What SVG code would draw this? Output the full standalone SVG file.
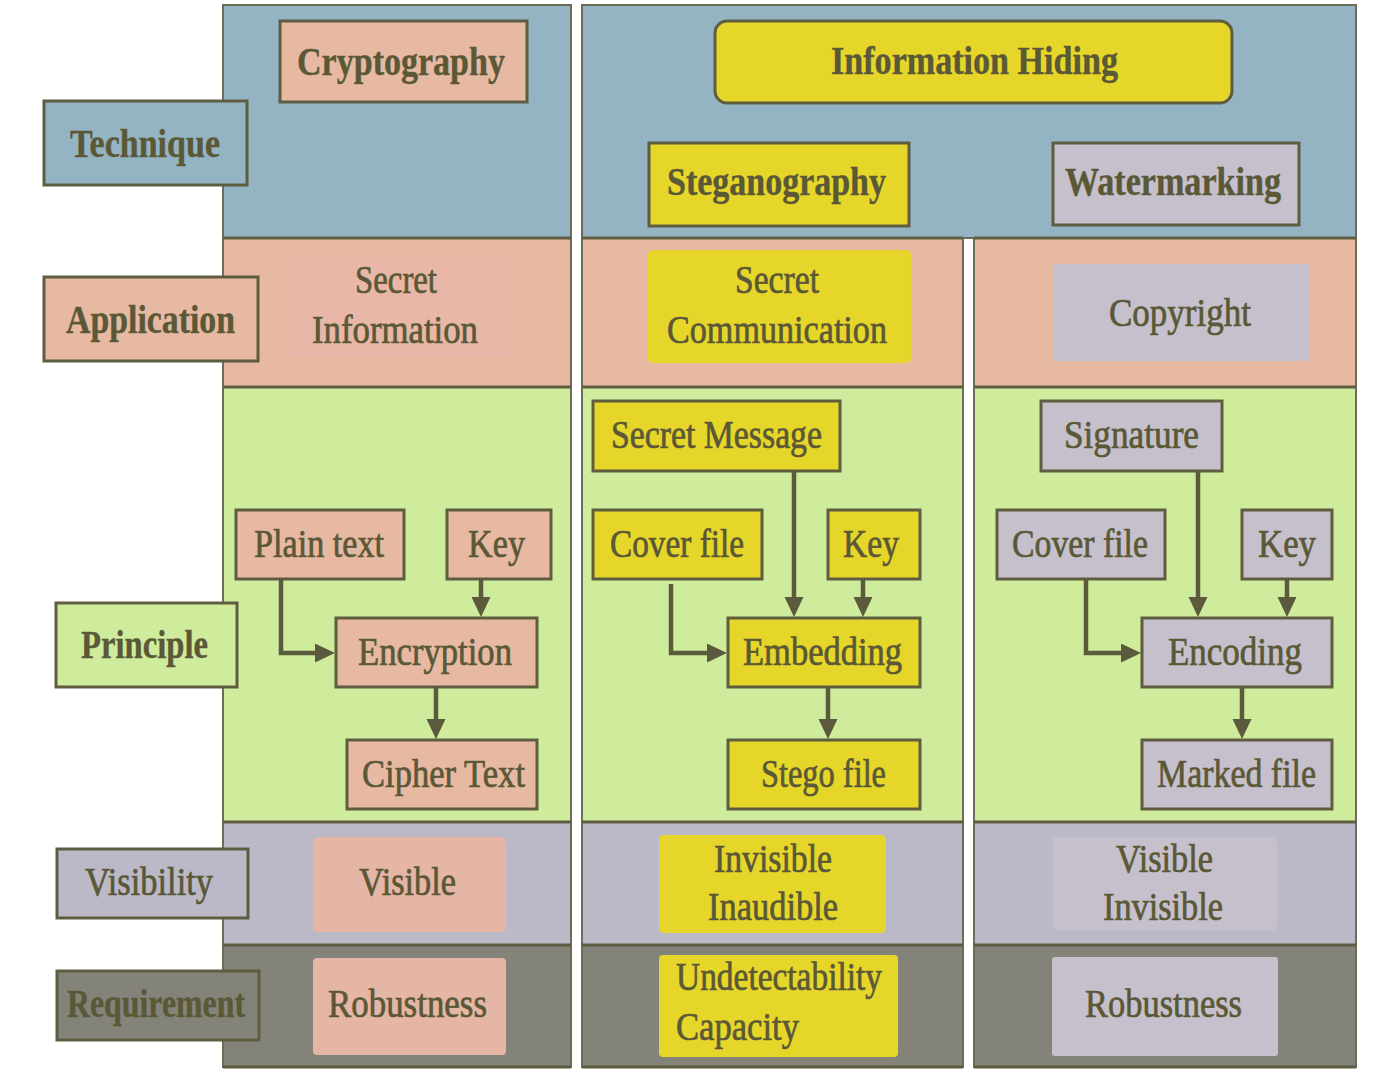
<svg xmlns="http://www.w3.org/2000/svg" width="1382" height="1080" viewBox="0 0 1382 1080">
  <defs>
    <marker id="arrow" markerUnits="userSpaceOnUse" markerWidth="22" markerHeight="20" refX="10" refY="9.5" orient="auto">
      <path d="M0,0 L20,9.5 L0,19 z" fill="#5c5a3c"/>
    </marker>
  </defs>
  <style>
    text { font-family: "Liberation Serif", "Times New Roman", serif; fill: #5a5836; text-anchor: start; }
    .b { font-weight: bold; font-size: 40px; stroke: #5a5836; stroke-width: 0.4; }
    .r { font-size: 40px; stroke: #5a5836; stroke-width: 0.7; }
    .frame { stroke: #6d6c58; stroke-width: 2; }
    .sep { stroke: #5e5d40; stroke-width: 3; }
    .box { stroke: #5e5d40; stroke-width: 3; }
    .blue { fill: #94b4c4; }
    .salmon { fill: #e7b9a3; }
    .green { fill: #cfec9c; }
    .yellow { fill: #e7d62a; }
    .lav { fill: #c6c0cc; }
    .vis { fill: #bbb8c7; }
    .gray { fill: #83837a; }
    .conn { fill: none; stroke: #5c5a3c; stroke-width: 4.5; }
  </style>

  <rect width="1382" height="1080" fill="#ffffff"/>

  <!-- Column backgrounds: cryptography -->
  <g id="col-cryptography">
    <rect class="blue" x="223" y="5" width="348" height="233"/>
    <rect class="salmon" x="223" y="238" width="348" height="149"/>
    <rect class="green" x="223" y="387" width="348" height="435"/>
    <rect class="vis" x="223" y="822" width="348" height="123"/>
    <rect class="gray" x="223" y="945" width="348" height="122"/>
    <rect x="223" y="5" width="348" height="1062" fill="none" class="frame"/>
    <line class="sep" x1="223" y1="238" x2="571" y2="238"/>
    <line class="sep" x1="223" y1="387" x2="571" y2="387"/>
    <line class="sep" x1="223" y1="822" x2="571" y2="822"/>
    <line class="sep" x1="223" y1="945" x2="571" y2="945"/>
    <line class="sep" x1="223" y1="1067" x2="571" y2="1067"/>
  </g>

  <!-- Information hiding: shared technique band plus two columns -->
  <g id="col-hiding">
    <rect class="blue" x="582" y="5" width="774" height="233"/>
    <rect x="582" y="5" width="774" height="233" fill="none" class="frame"/>
    <rect class="salmon" x="582" y="238" width="381" height="149"/>
    <rect class="green" x="582" y="387" width="381" height="435"/>
    <rect class="vis" x="582" y="822" width="381" height="123"/>
    <rect class="gray" x="582" y="945" width="381" height="122"/>
    <rect x="582" y="238" width="381" height="829" fill="none" class="frame"/>
    <rect class="salmon" x="974" y="238" width="382" height="149"/>
    <rect class="green" x="974" y="387" width="382" height="435"/>
    <rect class="vis" x="974" y="822" width="382" height="123"/>
    <rect class="gray" x="974" y="945" width="382" height="122"/>
    <rect x="974" y="238" width="382" height="829" fill="none" class="frame"/>
    <line class="sep" x1="582" y1="238" x2="963" y2="238"/>
    <line class="sep" x1="974" y1="238" x2="1356" y2="238"/>
    <line class="sep" x1="582" y1="387" x2="963" y2="387"/>
    <line class="sep" x1="974" y1="387" x2="1356" y2="387"/>
    <line class="sep" x1="582" y1="822" x2="963" y2="822"/>
    <line class="sep" x1="974" y1="822" x2="1356" y2="822"/>
    <line class="sep" x1="582" y1="945" x2="963" y2="945"/>
    <line class="sep" x1="974" y1="945" x2="1356" y2="945"/>
    <line class="sep" x1="582" y1="1067" x2="963" y2="1067"/>
    <line class="sep" x1="974" y1="1067" x2="1356" y2="1067"/>
  </g>

  <!-- Row labels -->
  <g id="label-technique">
    <rect class="box blue" x="44" y="101" width="203" height="84"/>
    <text class="b" x="70" y="157" textLength="150" lengthAdjust="spacingAndGlyphs">Technique</text>
  </g>
  <g id="label-application">
    <rect class="box salmon" x="44" y="277" width="214" height="84"/>
    <text class="b" x="66" y="333" textLength="169" lengthAdjust="spacingAndGlyphs">Application</text>
  </g>
  <g id="label-principle">
    <rect class="box green" x="56" y="603" width="181" height="84"/>
    <text class="b" x="81" y="658" textLength="127" lengthAdjust="spacingAndGlyphs">Principle</text>
  </g>
  <g id="label-visibility">
    <rect class="box vis" x="57" y="849" width="191" height="69"/>
    <text class="r" x="85" y="895" textLength="128" lengthAdjust="spacingAndGlyphs">Visibility</text>
  </g>
  <g id="label-requirement">
    <rect class="box gray" x="57" y="971" width="202" height="69"/>
    <text class="b" x="67" y="1017" textLength="178" lengthAdjust="spacingAndGlyphs">Requirement</text>
  </g>

  <!-- Technique row -->
  <g id="node-cryptography">
    <rect class="box salmon" x="280" y="21" width="247" height="81"/>
    <text class="b" x="297" y="75" textLength="208" lengthAdjust="spacingAndGlyphs">Cryptography</text>
  </g>
  <g id="node-information-hiding">
    <rect class="box yellow" x="715" y="21" width="517" height="82" rx="12"/>
    <text class="b" x="831" y="74" textLength="287" lengthAdjust="spacingAndGlyphs">Information Hiding</text>
  </g>
  <g id="node-steganography">
    <rect class="box yellow" x="649" y="143" width="260" height="83"/>
    <text class="b" x="667" y="195" textLength="219" lengthAdjust="spacingAndGlyphs">Steganography</text>
  </g>
  <g id="node-watermarking">
    <rect class="box lav" x="1053" y="143" width="246" height="82"/>
    <text class="b" x="1065" y="195" textLength="216" lengthAdjust="spacingAndGlyphs">Watermarking</text>
  </g>

  <!-- Application row -->
  <g id="node-secret-information">
    <rect x="284" y="256" width="230" height="101" rx="4" fill="#e8b7a7"/>
    <text class="r" x="355" y="293" textLength="82" lengthAdjust="spacingAndGlyphs">Secret</text>
    <text class="r" x="312" y="343" textLength="166" lengthAdjust="spacingAndGlyphs">Information</text>
  </g>
  <g id="node-secret-communication">
    <rect class="yellow" x="648" y="250" width="263" height="113" rx="5"/>
    <text class="r" x="735" y="293" textLength="84" lengthAdjust="spacingAndGlyphs">Secret</text>
    <text class="r" x="667" y="343" textLength="220" lengthAdjust="spacingAndGlyphs">Communication</text>
  </g>
  <g id="node-copyright">
    <rect class="lav" x="1053" y="264" width="257" height="97" rx="3"/>
    <text class="r" x="1109" y="326" textLength="142" lengthAdjust="spacingAndGlyphs">Copyright</text>
  </g>

  <!-- Principle row: cryptography -->
  <g id="node-plain-text">
    <rect class="box salmon" x="236" y="510" width="168" height="69"/>
    <text class="r" x="254" y="557" textLength="130" lengthAdjust="spacingAndGlyphs">Plain text</text>
  </g>
  <g id="node-key-1">
    <rect class="box salmon" x="447" y="510" width="104" height="69"/>
    <text class="r" x="468" y="557" textLength="57" lengthAdjust="spacingAndGlyphs">Key</text>
  </g>
  <g id="node-encryption">
    <rect class="box salmon" x="336" y="618" width="201" height="69"/>
    <text class="r" x="358" y="665" textLength="154" lengthAdjust="spacingAndGlyphs">Encryption</text>
  </g>
  <g id="node-cipher-text">
    <rect class="box salmon" x="347" y="740" width="190" height="69"/>
    <text class="r" x="362" y="787" textLength="163" lengthAdjust="spacingAndGlyphs">Cipher Text</text>
  </g>

  <!-- Principle row: steganography -->
  <g id="node-secret-message">
    <rect class="box yellow" x="593" y="401" width="247" height="70"/>
    <text class="r" x="611" y="448" textLength="211" lengthAdjust="spacingAndGlyphs">Secret Message</text>
  </g>
  <g id="node-cover-file-2">
    <rect class="box yellow" x="593" y="510" width="169" height="69"/>
    <text class="r" x="610" y="557" textLength="134" lengthAdjust="spacingAndGlyphs">Cover file</text>
  </g>
  <g id="node-key-2">
    <rect class="box yellow" x="828" y="510" width="92" height="69"/>
    <text class="r" x="843" y="557" textLength="56" lengthAdjust="spacingAndGlyphs">Key</text>
  </g>
  <g id="node-embedding">
    <rect class="box yellow" x="728" y="618" width="192" height="69"/>
    <text class="r" x="743" y="665" textLength="159" lengthAdjust="spacingAndGlyphs">Embedding</text>
  </g>
  <g id="node-stego-file">
    <rect class="box yellow" x="728" y="740" width="192" height="69"/>
    <text class="r" x="761" y="787" textLength="125" lengthAdjust="spacingAndGlyphs">Stego file</text>
  </g>

  <!-- Principle row: watermarking -->
  <g id="node-signature">
    <rect class="box lav" x="1041" y="401" width="181" height="70"/>
    <text class="r" x="1064" y="448" textLength="135" lengthAdjust="spacingAndGlyphs">Signature</text>
  </g>
  <g id="node-cover-file-3">
    <rect class="box lav" x="997" y="510" width="168" height="69"/>
    <text class="r" x="1012" y="557" textLength="136" lengthAdjust="spacingAndGlyphs">Cover file</text>
  </g>
  <g id="node-key-3">
    <rect class="box lav" x="1242" y="510" width="90" height="69"/>
    <text class="r" x="1258" y="557" textLength="58" lengthAdjust="spacingAndGlyphs">Key</text>
  </g>
  <g id="node-encoding">
    <rect class="box lav" x="1142" y="618" width="190" height="69"/>
    <text class="r" x="1168" y="665" textLength="134" lengthAdjust="spacingAndGlyphs">Encoding</text>
  </g>
  <g id="node-marked-file">
    <rect class="box lav" x="1142" y="740" width="190" height="69"/>
    <text class="r" x="1157" y="787" textLength="159" lengthAdjust="spacingAndGlyphs">Marked file</text>
  </g>

  <!-- Visibility row -->
  <g id="node-visible-1">
    <rect x="313" y="837" width="193" height="95" rx="4" fill="#e5b5a6"/>
    <text class="r" x="359" y="895" textLength="97" lengthAdjust="spacingAndGlyphs">Visible</text>
  </g>
  <g id="node-invisible-inaudible">
    <rect class="yellow" x="659" y="835" width="227" height="98" rx="5"/>
    <text class="r" x="714" y="872" textLength="118" lengthAdjust="spacingAndGlyphs">Invisible</text>
    <text class="r" x="708" y="920" textLength="130" lengthAdjust="spacingAndGlyphs">Inaudible</text>
  </g>
  <g id="node-visible-invisible">
    <rect class="lav" x="1053" y="837" width="224" height="93" rx="4"/>
    <text class="r" x="1116" y="872" textLength="97" lengthAdjust="spacingAndGlyphs">Visible</text>
    <text class="r" x="1103" y="920" textLength="120" lengthAdjust="spacingAndGlyphs">Invisible</text>
  </g>

  <!-- Requirement row -->
  <g id="node-robustness-1">
    <rect x="313" y="958" width="193" height="97" rx="4" fill="#e5b5a6"/>
    <text class="r" x="328" y="1017" textLength="159" lengthAdjust="spacingAndGlyphs">Robustness</text>
  </g>
  <g id="node-undetectability-capacity">
    <rect class="yellow" x="659" y="955" width="239" height="102" rx="4"/>
    <text class="r" x="676" y="990" textLength="206" lengthAdjust="spacingAndGlyphs">Undetectability</text>
    <text class="r" x="676" y="1040" textLength="123" lengthAdjust="spacingAndGlyphs">Capacity</text>
  </g>
  <g id="node-robustness-3">
    <rect class="lav" x="1052" y="957" width="226" height="99" rx="3"/>
    <text class="r" x="1085" y="1017" textLength="157" lengthAdjust="spacingAndGlyphs">Robustness</text>
  </g>

  <!-- Connectors: path ends 10px short, marker tip reaches the box edge -->
  <g id="connectors">
    <path class="conn" d="M281,579 V653 H325" marker-end="url(#arrow)"/>
    <path class="conn" d="M481,579 V607" marker-end="url(#arrow)"/>
    <path class="conn" d="M436,687 V729" marker-end="url(#arrow)"/>

    <path class="conn" d="M794,471 V607" marker-end="url(#arrow)"/>
    <path class="conn" d="M863,579 V607" marker-end="url(#arrow)"/>
    <path class="conn" d="M671,584 V653 H717" marker-end="url(#arrow)"/>
    <path class="conn" d="M828,687 V729" marker-end="url(#arrow)"/>

    <path class="conn" d="M1198,471 V607" marker-end="url(#arrow)"/>
    <path class="conn" d="M1287,579 V607" marker-end="url(#arrow)"/>
    <path class="conn" d="M1086,579 V653 H1131" marker-end="url(#arrow)"/>
    <path class="conn" d="M1242,687 V729" marker-end="url(#arrow)"/>
  </g>
</svg>
